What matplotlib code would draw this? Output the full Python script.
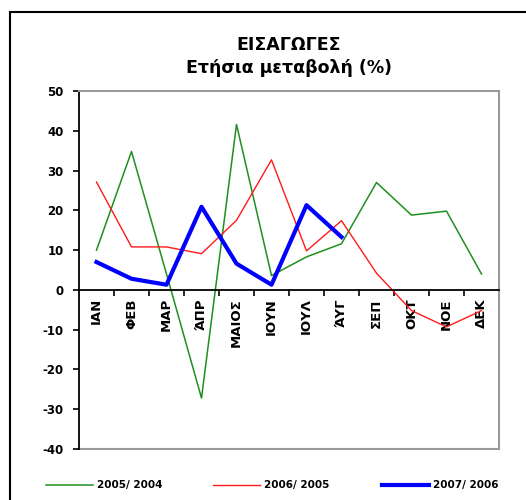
import matplotlib
matplotlib.use("Agg")
import matplotlib.pyplot as plt
from matplotlib.patches import Rectangle
from matplotlib.lines import Line2D
import numpy as np

plt.rcParams['font.family'] = ['DejaVu Sans']

months = ["ΙΑΝ", "ΦΕΒ", "ΜΑΡ", "ΆΠΡ", "ΜΑΙΟΣ", "ΙΟΥΝ", "ΙΟΥΛ", "ΆΥΓ",
          "ΣΕΠ", "ΟΚΤ", "ΝΟΕ", "ΔΕΚ"]
s2005 = [10.0, 34.8, 4.0, -27.2, 41.6, 3.6, 8.3, 11.6, 27.0, 18.8, 19.8, 4.0]
s2006 = [27.1, 10.8, 10.8, 9.1, 17.5, 32.7, 9.8, 17.4, 4.2, -5.2, -9.3, -5.2]
s2007 = [7.0, 2.8, 1.3, 20.9, 6.6, 1.3, 21.3, 13.3]
labels = ["2005/ 2004", "2006/ 2005", "2007/ 2006"]
yticks = [-40, -30, -20, -10, 0, 10, 20, 30, 40, 50]

W, H = 526, 500
fig = plt.figure(figsize=(W / 100, H / 100), dpi=100)
fig.patch.set_facecolor('white')

# outer frame
fig.add_artist(Rectangle((10 / W, -0.1), 1.2, 1 - 12 / H + 0.1, transform=fig.transFigure,
                         fill=False, edgecolor='black', lw=1.5))

ax = fig.add_axes([79 / W, 1 - 449 / H, 420 / W, 358 / H])
ax.set_xlim(-0.5, 11.5)
ax.set_ylim(-40, 50)

colors = ['#1f8f1f', '#ff1a1a', '#0000ff']
widths = [1.1, 1.0, 3.0]
series = [s2005, s2006, s2007]
for s, c, w in zip(series, colors, widths):
    ax.plot(np.arange(len(s)), s, color=c, lw=w, solid_joinstyle='round')

ax.spines['bottom'].set_position(('data', 0))
ax.spines['bottom'].set_color('black')
ax.spines['bottom'].set_linewidth(1.3)
ax.spines['left'].set_color('black')
ax.spines['left'].set_linewidth(1.3)
for sp in ['top', 'right']:
    ax.spines[sp].set_color('#9a9a9a')
    ax.spines[sp].set_linewidth(1.5)
ax.axhline(-40, color='#9a9a9a', lw=1.5, clip_on=False, zorder=0.5)

ax.set_yticks(yticks)
ax.set_yticklabels([str(v) for v in yticks], fontsize=8.5, fontweight='bold')
ax.tick_params(axis='y', direction='out', length=4, width=1.2, pad=7)

ax.set_xticks(np.arange(12))
ax.set_xticklabels(months, rotation=90, fontsize=9.5, fontweight='bold', va='top')
ax.set_xticks(np.arange(12) + 0.5, minor=True)
ax.tick_params(axis='x', which='major', length=0, pad=6)
ax.tick_params(axis='x', which='minor', direction='out', length=4, width=1.2)

# titles
cx = (79 + 499) / 2 / W
fig.text(cx, 1 - 45 / H, "ΕΙΣΑΓΩΓΕΣ", ha='center', va='center', fontsize=12.5, fontweight='bold')
fig.text(cx, 1 - 68 / H, "Ετήσια μεταβολή (%)", ha='center', va='center', fontsize=12.5, fontweight='bold')

# legend
leg_y = 1 - 485 / H
starts = [46, 213, 382]
for x0, c, w, lab in zip(starts, colors, widths, labels):
    fig.add_artist(Line2D([x0 / W, (x0 + 47) / W], [leg_y, leg_y], color=c, lw=w,
                          transform=fig.transFigure))
    fig.text((x0 + 51) / W, leg_y, lab, ha='left', va='center', fontsize=7.5, fontweight='bold')

fig.savefig("out.png", dpi=100)
